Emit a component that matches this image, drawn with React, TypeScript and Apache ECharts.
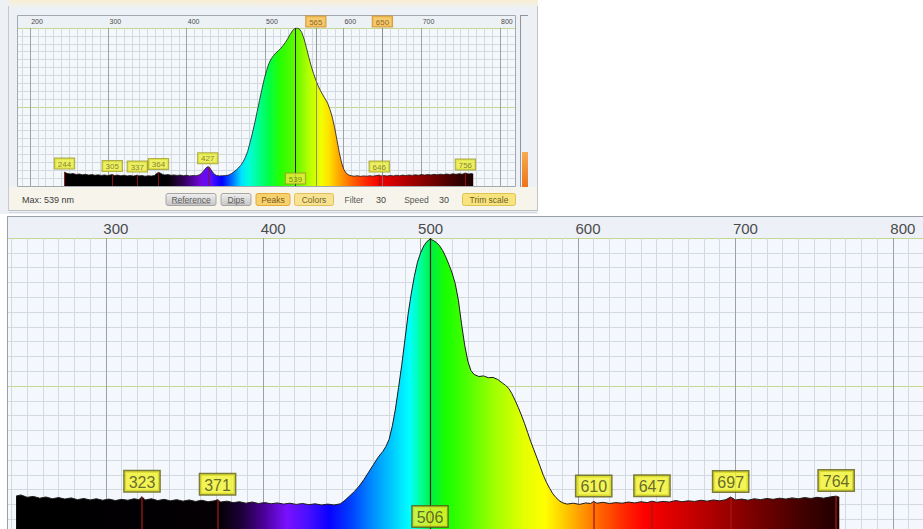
import React, { useEffect, useRef } from "react";
import * as echarts from "echarts";

const FONT = "'Liberation Sans', Arial, Helvetica, sans-serif";

// ---------------- lower (zoomed) spectrum: [wavelength nm, intensity %] ----------------
const lowerSpectrum: [number, number][] = [
  [243, 12.8], [246, 13.2], [250, 12.4], [254, 12.7], [258, 12.1], [262, 12.5], [266, 11.9], [270, 12.3],
  [274, 11.8], [278, 12.2], [282, 11.6], [286, 12.0], [290, 11.5], [294, 11.9], [298, 11.4], [302, 11.8],
  [306, 11.3], [310, 11.7], [314, 11.4], [318, 11.9], [321, 11.6], [323, 12.6], [325, 11.5], [329, 11.9],
  [333, 11.3], [337, 11.7], [341, 11.2], [345, 11.6], [349, 11.1], [353, 11.5], [357, 11.0], [361, 11.4],
  [365, 10.9], [369, 11.2], [371, 11.6], [373, 10.8], [377, 11.1], [381, 10.6], [385, 10.9], [389, 10.4],
  [393, 10.8], [397, 10.3], [401, 10.6], [405, 10.2], [409, 10.5], [413, 10.1], [417, 10.4], [421, 10.0],
  [425, 10.3], [429, 9.9], [433, 10.2], [437, 9.8], [441, 10.1], [445, 9.8], [449, 10.2], [452, 11.4],
  [455, 12.9], [458, 14.4], [461, 16.2], [464, 18.4], [467, 20.9], [470, 23.4], [473, 25.9], [476, 27.9],
  [478, 29.6], [480, 32.0], [482, 36.4], [484, 42.2], [486, 49.5], [488, 57.0], [490, 65.5], [492, 74.0],
  [494, 81.0], [496, 87.0], [498, 91.8], [500, 95.0], [502, 97.3], [504, 98.8], [506, 99.6], [508, 99.2],
  [510, 98.5], [512, 97.4], [514, 95.8], [516, 93.6], [518, 91.0], [520, 88.2], [522, 84.6], [524, 79.0],
  [526, 71.0], [528, 63.8], [530, 58.4], [532, 55.2], [534, 53.9], [537, 53.2], [540, 53.4], [543, 52.8],
  [546, 52.9], [549, 52.2], [552, 51.0], [554, 50.2], [556, 49.2], [558, 47.4], [560, 45.2], [562, 42.8],
  [564, 40.2], [566, 37.4], [568, 34.3], [570, 31.2], [572, 28.4], [574, 25.6], [576, 22.7], [578, 19.8],
  [580, 17.4], [582, 15.4], [584, 13.6], [586, 12.3], [588, 11.3], [590, 10.6], [593, 10.1], [597, 10.4],
  [601, 10.0], [605, 10.5], [608, 10.3], [610, 11.0], [612, 10.4], [616, 10.7], [620, 10.3], [624, 10.6],
  [628, 10.4], [632, 10.8], [636, 10.5], [640, 10.9], [644, 10.6], [647, 11.1], [650, 10.7], [654, 11.0],
  [658, 10.8], [662, 11.3], [666, 10.9], [670, 11.2], [674, 11.0], [678, 11.4], [682, 11.1], [686, 11.5],
  [690, 11.2], [694, 11.6], [697, 12.5], [700, 11.5], [704, 11.8], [708, 11.4], [712, 11.9], [716, 11.6],
  [720, 12.0], [724, 11.7], [728, 12.1], [732, 11.8], [736, 12.2], [740, 11.9], [744, 12.3], [748, 12.0],
  [752, 12.4], [756, 12.1], [760, 12.5], [764, 12.8], [766, 12.4],
];
const lowerPeaks = [323, 371, 610, 647, 697, 764];
const lowerMaxPeak = 506;
const lowerTickLabels = [300, 400, 500, 600, 700, 800];
const lowerColorStopNm = [243, 372, 386, 400, 415, 428, 442, 456, 470, 484, 493, 500, 507, 516, 530, 546, 565, 579, 592, 602, 614, 628, 642, 665, 690, 718, 745, 766];
const lowerColorStopHex = ["#000000", "#040004", "#1c0036", "#4a0096", "#7a10ff", "#4a10ff", "#0a00ff", "#0040ff", "#0090ff", "#00d4ff", "#00ffff", "#00ff9a", "#00f040", "#18ff00", "#50ff00", "#9cff00", "#e2ff00", "#ffff00", "#ffc800", "#ff9a00", "#ff6400", "#ff2c00", "#ff0000", "#d40000", "#a40000", "#6e0000", "#3e0000", "#200000"];

// ---------------- upper (overview) spectrum ----------------
const upperSpectrum: [number, number][] = [
  [244, 8.8], [247, 8.0], [251, 7.6], [255, 7.9], [259, 7.3], [263, 7.6], [267, 7.1], [271, 7.4],
  [275, 6.9], [279, 7.2], [283, 6.8], [287, 7.1], [291, 6.7], [295, 7.0], [299, 6.6], [302, 6.9],
  [305, 7.2], [308, 6.6], [312, 6.9], [316, 6.5], [320, 6.8], [324, 6.4], [328, 6.7], [332, 6.3],
  [335, 6.6], [337, 6.9], [339, 6.4], [343, 6.6], [347, 6.2], [351, 6.5], [355, 6.3], [359, 6.7],
  [362, 8.0], [364, 8.6], [366, 8.3], [369, 7.4], [372, 7.0], [376, 7.2], [380, 6.8], [384, 7.0],
  [388, 6.7], [392, 6.9], [396, 6.5], [400, 6.8], [404, 6.4], [408, 6.6], [412, 6.5], [416, 7.0],
  [419, 8.0], [422, 9.8], [425, 11.6], [427, 12.2], [429, 11.8], [432, 9.6], [435, 7.6], [438, 6.7],
  [442, 6.4], [446, 6.5], [450, 6.6], [454, 7.0], [457, 7.8], [460, 8.8], [463, 10.0], [466, 11.4],
  [469, 13.0], [472, 15.2], [475, 18.2], [478, 22.0], [481, 27.5], [484, 33.5], [487, 40.0], [490, 47.0],
  [493, 54.0], [496, 61.0], [499, 67.5], [502, 73.0], [505, 77.5], [508, 80.5], [511, 82.5], [514, 84.2],
  [517, 85.6], [520, 87.0], [523, 88.8], [526, 90.8], [529, 93.2], [532, 95.8], [535, 98.2], [538, 99.7],
  [541, 100], [544, 99.4], [547, 97.2], [550, 93.0], [553, 87.5], [556, 81.5], [559, 76.0], [562, 71.2],
  [565, 67.0], [568, 63.4], [571, 60.2], [574, 57.6], [577, 55.0], [580, 52.5], [583, 48.5], [586, 43.5],
  [589, 37.0], [592, 29.0], [595, 21.0], [598, 14.5], [601, 10.2], [604, 8.0], [607, 7.0], [610, 6.5],
  [614, 6.2], [618, 6.5], [622, 6.1], [626, 6.4], [630, 6.2], [634, 6.5], [638, 6.2], [642, 6.6],
  [646, 6.9], [648, 6.4], [652, 6.6], [656, 6.3], [660, 6.7], [664, 6.4], [668, 6.8], [672, 6.5],
  [676, 6.9], [680, 6.6], [684, 7.0], [688, 6.7], [692, 7.1], [696, 6.8], [700, 7.2], [704, 6.9],
  [708, 7.3], [712, 7.0], [716, 7.4], [720, 7.1], [724, 7.5], [728, 7.2], [732, 7.6], [736, 7.3],
  [740, 7.7], [744, 7.4], [748, 7.8], [752, 7.5], [756, 8.2], [760, 7.6], [764, 7.9], [766, 7.5],
];
const upperPeaks = [244, 305, 337, 364, 427, 646, 756];
const upperMaxPeak = 539;
const upperMarkers = [565, 650];
const upperTickLabels = [200, 300, 400, 500, 600, 700, 800];
const upperColorStopNm = [244, 376, 396, 420, 432, 445, 458, 470, 480, 492, 505, 520, 540, 556, 572, 582, 595, 612, 630, 648, 680, 715, 745, 766];
const upperColorStopHex = ["#000000", "#030003", "#320058", "#7408e8", "#5010ff", "#0000ff", "#0070ff", "#00e4ff", "#00ffd8", "#00ff90", "#00ff44", "#28ff00", "#64f800", "#b4ff00", "#f2ff00", "#ffe000", "#ffa400", "#ff6000", "#ff2400", "#f00000", "#b00000", "#700000", "#380000", "#1c0000"];

// ---------------- toolbar texts ----------------
const toolbarInfo = "Max: 539 nm";
const toolbarButtons = ["Reference", "Dips", "Peaks", "Colors", "Trim scale"];
const toolbarSettings = [["Filter", "30"], ["Speed", "30"]];

const valueAt = (spec: [number, number][], nm: number) => {
  const p = spec.find((d) => d[0] === nm);
  return p ? p[1] : 0;
};

const spectrumGradient = (spec: [number, number][], stopNm: number[], stopHex: string[]) => {
  const a = spec[0][0];
  const b = spec[spec.length - 1][0];
  return new echarts.graphic.LinearGradient(
    0, 0, 1, 0,
    stopNm.map((w, i) => ({ offset: Math.min(1, Math.max(0, (w - a) / (b - a))), color: stopHex[i] }))
  );
};

const vgrad = (a: string, b: string) =>
  new echarts.graphic.LinearGradient(0, 0, 0, 1, [{ offset: 0, color: a }, { offset: 1, color: b }]);

const WIN = "#edf0f4";
const MINOR = "#d3d9e1";

function buildOption() {
  const xAxis = (gridIndex: number, min: number, ticks: number[], fontSize: number, pad: number, margin: number, major: string) => ({
    type: "value",
    gridIndex,
    min,
    max: 900,
    interval: 100,
    position: "top",
    axisLine: { show: false },
    axisTick: { show: false },
    axisLabel: {
      show: true,
      fontSize,
      color: "#4a4a4a",
      fontFamily: FONT,
      margin,
      align: "center",
      padding: [0, 0, 0, pad],
      formatter: (v: number) => (ticks.includes(v) ? String(v) : ""),
    },
    splitLine: { show: true, lineStyle: { color: major, width: 1 } },
    minorTick: { show: false, splitNumber: 10 },
    minorSplitLine: { show: true, lineStyle: { color: MINOR, width: 1 } },
  });
  const yAxis = (gridIndex: number) => ({
    type: "value",
    gridIndex,
    min: 0,
    max: 100,
    interval: 50,
    axisLine: { show: false },
    axisTick: { show: false },
    axisLabel: { show: false },
    splitLine: { show: true, showMinLine: false, lineStyle: { color: "#c4d98e", width: 1 } },
    minorTick: { show: false, splitNumber: 10 },
    minorSplitLine: { show: true, lineStyle: { color: MINOR, width: 1 } },
  });

  const peakLine = (nm: number, v: number, color: string, width: number) => [
    { coord: [nm, 0], lineStyle: { color, width, type: "solid" } },
    { coord: [nm, v] },
  ];

  const labelSeries = (xi: number, data: number[][], dist: number, fs: number, lh: number, pad: number[], bg: string, border: string, color: string, bw: number) => ({
    type: "scatter",
    xAxisIndex: xi,
    yAxisIndex: xi,
    data,
    symbolSize: 1,
    clip: false,
    silent: true,
    z: 10,
    itemStyle: { color: "rgba(0,0,0,0)" },
    label: {
      show: true,
      position: "top",
      distance: dist,
      formatter: (p: any) => String(p.value[0]),
      fontSize: fs,
      lineHeight: lh,
      fontFamily: FONT,
      color,
      backgroundColor: bg,
      borderColor: border,
      borderWidth: bw,
      padding: pad,
    },
  });

  const g: any[] = [];
  const line = (x1: number, y1: number, x2: number, y2: number, stroke: string, z: number, lw = 1) =>
    g.push({ type: "line", z, silent: true, shape: { x1, y1, x2, y2 }, style: { stroke, lineWidth: lw } });
  const rect = (x: number, y: number, width: number, height: number, style: any, z: number, r = 0) =>
    g.push({ type: "rect", z, silent: true, shape: { x, y, width, height, r }, style });
  const text = (x: number, y: number, t: string, fill: string, fs: number, z: number, align = "center") =>
    g.push({ type: "text", z, silent: true, x, y, style: { text: t, fill, fontSize: fs, fontFamily: FONT, align, verticalAlign: "middle" } });

  // upper window chrome
  rect(0, 0, 540, 214, { fill: WIN }, -20);
  rect(9, 0, 529, 8, { fill: vgrad("#f9eed2", WIN) }, -19);
  rect(17.5, 15.5, 498, 171, { fill: "#f5f8fb" }, -18);
  rect(18, 16, 497, 12, { fill: "#ecf1f6" }, -17);
  rect(9, 187, 528, 23, { fill: "#f7f5eb" }, -17);
  line(9, 210.5, 537, 210.5, "#bcc1c8", -16);
  line(9, 212.5, 537, 212.5, "#d4d7dc", -16);
  line(17.5, 15.5, 515.5, 15.5, "#a3a9b1", -16);
  // covers outside upper plot
  rect(-100, 27, 117.5, 160, { fill: WIN }, 20);
  rect(516, 27, 22, 160, { fill: WIN }, 20);
  rect(538, 0, 120, 214, { fill: "#ffffff" }, 20);
  line(8.5, 6, 8.5, 211, "#c5c9cf", 21);
  line(537.5, 6, 537.5, 211, "#c0c4ca", 21);
  line(17.5, 15.5, 17.5, 186.5, "#a3a9b1", 21);
  line(515.5, 15.5, 515.5, 186.5, "#a3a9b1", 21);
  line(17.5, 186.5, 515.5, 186.5, "#a3a9b1", 21);
  // slider
  line(520.5, 15, 520.5, 187, "#8f959d", 22);
  line(520.5, 15.5, 528, 15.5, "#8f959d", 22);
  rect(522, 152, 6, 35, { fill: vgrad("#f8ab52", "#ec7419") }, 22);

  // toolbar
  text(22, 200, toolbarInfo, "#3c3c3c", 9, 5, "left");
  const btn = [
    { x: 166, w: 50, fill: vgrad("#efefef", "#c6c6c6"), stroke: "#a6a6a6", tc: "#5c5c5c", ul: true },
    { x: 221, w: 30, fill: vgrad("#efefef", "#c6c6c6"), stroke: "#a6a6a6", tc: "#5c5c5c", ul: true },
    { x: 256, w: 34, fill: "#f7d26c", stroke: "#e2aa3a", tc: "#7a5a1a", ul: false },
    { x: 294.5, w: 39, fill: "#f6e291", stroke: "#e0c05a", tc: "#7a6424", ul: false },
    { x: 462.5, w: 53, fill: "#f7e47e", stroke: "#dfc352", tc: "#6e5e22", ul: false },
  ];
  btn.forEach((b, i) => {
    rect(b.x, 193.5, b.w, 12, { fill: b.fill, stroke: b.stroke, lineWidth: 1 }, 5, 2);
    text(b.x + b.w / 2, 199.5, toolbarButtons[i], b.tc, 8.5, 6);
    if (b.ul) line(b.x + 6, 203.5, b.x + b.w - 6, 203.5, "#8a8a8a", 6, 0.6);
  });
  text(354, 199.5, toolbarSettings[0][0], "#555555", 8.5, 6);
  text(381, 199.5, toolbarSettings[0][1], "#444444", 9, 6);
  text(416.5, 199.5, toolbarSettings[1][0], "#555555", 8.5, 6);
  text(444, 199.5, toolbarSettings[1][1], "#444444", 9, 6);

  // lower panel chrome
  rect(8, 217, 915, 21, { fill: "#edf1f7" }, -15);
  rect(8, 238, 915, 291, { fill: "#f4f7fb" }, -15);
  line(7, 216.5, 923, 216.5, "#98a0a8", -14);
  rect(-100, 217, 107.5, 320, { fill: "#ffffff" }, 20);
  line(7.5, 216, 7.5, 529, "#98a0a8", 21);

  const upperLines = [
    ...upperPeaks.map((w) => peakLine(w, valueAt(upperSpectrum, w), "rgba(150,20,20,0.9)", 1)),
    peakLine(upperMaxPeak, 100, "#202020", 1),
    ...upperMarkers.map((w) => peakLine(w, 100, "#7a7a7a", 0.8)),
  ];
  const lowerLines = [
    ...lowerPeaks.map((w) => peakLine(w, valueAt(lowerSpectrum, w), "rgba(160,24,20,0.85)", 1.5)),
    peakLine(lowerMaxPeak, 100, "#1e1e1e", 1.2),
  ];

  return {
    animation: false,
    backgroundColor: "#ffffff",
    grid: [
      { left: -48.25, top: 28, width: 626.4, height: 158, outerBoundsMode: "none", containLabel: false },
      { left: -51.6, top: 238, width: 1101.8, height: 296, outerBoundsMode: "none", containLabel: false },
    ],
    xAxis: [
      xAxis(0, 100, upperTickLabels, 7, 14, 3, "#9ea3ab"),
      xAxis(1, 200, lowerTickLabels, 15, 20, 2, "#9ca1a9"),
    ],
    yAxis: [yAxis(0), yAxis(1)],
    graphic: { elements: g },
    series: [
      {
        type: "line",
        xAxisIndex: 0,
        yAxisIndex: 0,
        data: upperSpectrum,
        symbol: "none",
        silent: true,
        z: 2,
        lineStyle: { color: "#1c1c1c", width: 0.8 },
        areaStyle: { color: spectrumGradient(upperSpectrum, upperColorStopNm, upperColorStopHex), opacity: 1 },
        markLine: { silent: true, symbol: ["none", "none"], label: { show: false }, data: upperLines },
      },
      {
        type: "line",
        xAxisIndex: 1,
        yAxisIndex: 1,
        data: lowerSpectrum,
        symbol: "none",
        silent: true,
        z: 2,
        lineStyle: { color: "#1c1c1c", width: 1 },
        areaStyle: { color: spectrumGradient(lowerSpectrum, lowerColorStopNm, lowerColorStopHex), opacity: 1 },
        markLine: { silent: true, symbol: ["none", "none"], label: { show: false }, data: lowerLines },
      },
      labelSeries(0, upperPeaks.map((w) => [w, valueAt(upperSpectrum, w)]), 3, 8, 9, [1, 3, 0, 3], "#ebed3c", "#9a9a22", "#6a6a1e", 1),
      labelSeries(0, [[upperMaxPeak, 0]], 2, 8, 9, [1, 3, 0, 3], "#ebed3c", "#9a9a22", "#6a6a1e", 1),
      labelSeries(0, upperMarkers.map((w) => [w, 100]), 1, 8, 9, [1, 3, 0, 3], "#f6c24c", "#d08a20", "#7a4a10", 1),
      labelSeries(1, lowerPeaks.map((w) => [w, valueAt(lowerSpectrum, w)]), 5, 16, 18, [2, 4, 0, 4], "#f3f32c", "#5e5e0c", "#46461e", 1.5),
      labelSeries(1, [[lowerMaxPeak, 0]], 7, 16, 18, [2, 4, 0, 4], "#f3f32c", "#5e5e0c", "#46461e", 1.5),
    ],
  };
}

export default function App() {
  const ref = useRef<HTMLDivElement>(null);
  useEffect(() => {
    if (!ref.current) return;
    const chart = echarts.init(ref.current, undefined, { renderer: "svg" });
    chart.setOption(buildOption() as any);
    return () => chart.dispose();
  }, []);
  return (
    <div
      ref={ref}
      style={{ position: "fixed", left: 0, top: 0, width: 923, height: 529, background: "#ffffff" }}
    />
  );
}
